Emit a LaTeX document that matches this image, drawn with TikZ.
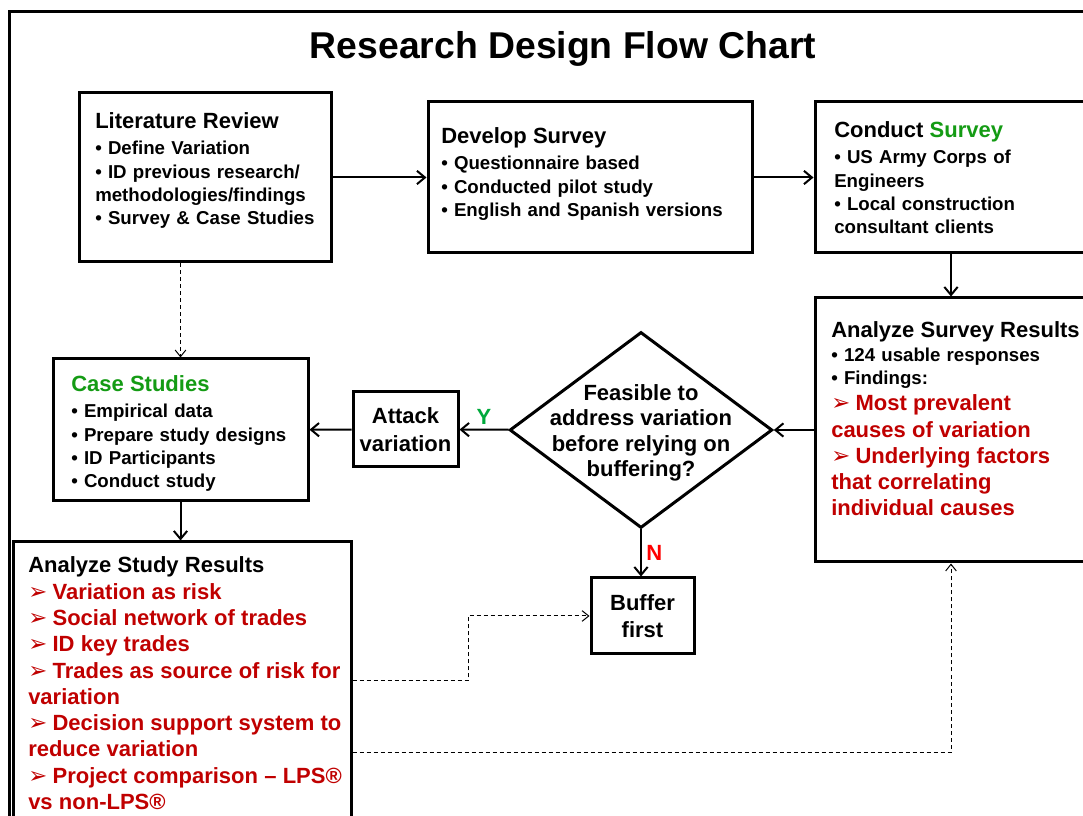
\documentclass[tikz,border=0pt]{standalone}
\usepackage{fontspec}
\setmainfont{Liberation Sans}
\newfontfamily\arrowfont{DejaVu Sans}
\usetikzlibrary{shapes.geometric,arrows.meta,fit}

\definecolor{headgreen}{RGB}{20,155,20}
\definecolor{findred}{RGB}{192,0,0}
\definecolor{yesgreen}{RGB}{0,170,60}

\newcommand{\boxhead}[1]{{\fontsize{16.5}{19.5}\selectfont #1}\par\vspace{2pt}}
\newcommand{\finding}{{\mdseries\arrowfont\fontsize{17}{13}\selectfont ➢}\hspace{4pt}}

\begin{document}
\begin{tikzpicture}[x=0.75pt,y=-0.75pt,
    box/.style={draw, line width=2.25pt, inner sep=0pt},
    boxtext/.style={anchor=base west, inner sep=0pt, text width=260pt, align=left,
                    font=\fontsize{14}{17.5}\selectfont\bfseries},
    bigtext/.style={align=center, font=\fontsize{16.5}{20.5}\selectfont\bfseries},
    flow/.style={line width=1.5pt, -{Straight Barb[length=6pt,width=10pt]}},
    dashflow/.style={line width=0.75pt, dash pattern=on 3pt off 2.25pt,
                     -{Straight Barb[length=5pt,width=8pt]}}]

\fill[white] (0,0) rectangle (1083,816);
\useasboundingbox (0,0) rectangle (1083,816);
\clip (0,0) rectangle (1083,816);

% frame
\draw[line width=2.25pt] (9,830) -- (9,12) -- (1095,12);

% title
\node (title) at (563,49) {\fontsize{28}{32}\selectfont\bfseries Research Design Flow Chart};

% boxes
\node (litrev)[box, fit={(79,93) (331,262)}]{};
\node (devsurvey)[box, fit={(428,102) (752,253)}]{};
\node (conduct)[box, fit={(815,102) (1087,253)}]{};
\node (survres)[box, fit={(815,298) (1087,562)}]{};
\node (decide)[draw, diamond, line width=2.25pt, inner sep=0pt,
               minimum width=197pt, minimum height=147pt] at (641,430){};
\node (attack)[box, fit={(353,392) (458,467)}]{};
\node (casestud)[box, fit={(53,359) (308,501)}]{};
\node (studyres)[box, fit={(13,542) (351,840)}]{};
\node (buffer)[box, fit={(591,578) (694,654)}]{};

% box texts
\node (litrev-txt)[boxtext] at (95,129){\boxhead{Literature Review}
  • Define Variation\\
  • ID previous research/\\
  methodologies/findings\\
  • Survey \& Case Studies};
\node (devsurvey-txt)[boxtext] at (441,144){\boxhead{Develop Survey}
  • Questionnaire based\\
  • Conducted pilot study\\
  • English and Spanish versions};
\node (conduct-txt)[boxtext] at (834,138){\boxhead{Conduct {\color{headgreen}Survey}}
  • US Army Corps of\\
  Engineers\\
  • Local construction\\
  consultant clients};
\node (survres-txt)[boxtext] at (831,338){{\fontsize{16.5}{19.5}\selectfont Analyze Survey Results}\par
  • 124 usable responses\\
  • Findings:\par
  {\color{findred}\fontsize{16.5}{19.7}\selectfont
  \finding Most prevalent\\
  causes of variation\\
  \finding Underlying factors\\
  that correlating\\
  individual causes\par}};
\node (casestud-txt)[boxtext] at (71,392){\boxhead{\color{headgreen}Case Studies}
  • Empirical data\\
  • Prepare study designs\\
  • ID Participants\\
  • Conduct study};
\node (studyres-txt)[boxtext] at (28,573){{\fontsize{16.5}{18}\selectfont Analyze Study Results}\par
  {\color{findred}\fontsize{16.5}{19.7}\selectfont
  \finding Variation as risk\\
  \finding Social network of trades\\
  \finding ID key trades\\
  \finding Trades as source of risk for\\
  variation\\
  \finding Decision support system to\\
  reduce variation\\
  \finding Project comparison -- LPS®\\
  vs non-LPS®\par}};
\node (decide-txt)[bigtext, font=\fontsize{16.5}{19}\selectfont\bfseries] at (641,433)
  {Feasible to\\address variation\\before relying on\\buffering?};
\node (attack-txt)[bigtext] at (attack){Attack\\variation};
\node (buffer-txt)[bigtext] at (buffer){Buffer\\first};

% connectors
\draw[flow] (litrev) -- (devsurvey);
\draw[flow] (devsurvey) -- (conduct);
\draw[flow] (conduct) -- (survres);
\draw[flow] (survres) -- (decide);
\draw[flow] (decide) -- node[above, text=yesgreen, font=\fontsize{16.5}{20}\selectfont\bfseries]{Y} (attack);
\draw[flow] (attack) -- (casestud);
\draw[dashflow] (litrev.south -| casestud.north) -- (casestud.north);
\draw[flow] (casestud.south) -- (casestud.south |- studyres.north);
\draw[flow] (decide.south) -- node[right, text=red, font=\fontsize{16.5}{20}\selectfont\bfseries]{N} (decide.south |- buffer.north);
\draw[dashflow] (studyres.east |- 0,681) -- (468,681) |- (buffer.west);
\draw[dashflow] (studyres.east |- 0,752) -| (survres.south);
\end{tikzpicture}
\end{document}
